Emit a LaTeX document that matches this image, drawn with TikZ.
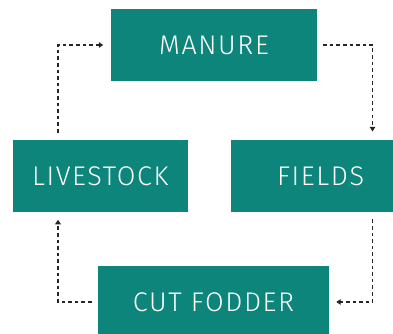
\documentclass[tikz,border=0pt]{standalone}
\usepackage{fontspec}
\setmainfont{Fira Sans Light}[LetterSpace=6]
\usetikzlibrary{arrows.meta}
\definecolor{teal}{HTML}{0E857A}
\definecolor{ink}{HTML}{262626}
\begin{document}
\begin{tikzpicture}[x=1pt,y=-1pt,
  stage/.style={rectangle, fill=teal, text=white, inner sep=0pt,
    font=\fontsize{27}{27}\selectfont, text height=18.6pt, text depth=0pt},
  flow/.style={draw=ink, line width=1.3pt, dash pattern=on 3.6pt off 3pt,
    -{Triangle[length=4.5pt,width=5.5pt]}}]
\useasboundingbox (0,0) rectangle (393,334);
\clip (0,0) rectangle (393,334);
% the four stages of the cycle
\node[stage, minimum width=206pt, minimum height=71.5pt] (manure) at (214,45) {MANURE};
\node[stage, minimum width=174.7pt, minimum height=71.7pt] (livestock) at (100.3,176) {LIVESTOCK};
\node[stage, minimum width=178.7pt, minimum height=71.7pt] (fields) at (320.6,176) {FIELDS};
\node[stage, minimum width=231pt, minimum height=72pt] (fodder) at (213.5,302) {CUT FODDER};
% verticals of the left and right loops
\coordinate (L) at (58,0);
\coordinate (R) at (372.5,0);
% dotted connectors
\draw[flow, shorten <=7.3pt, shorten >=7.5pt] (livestock.north -| L) |- (manure.west);
\draw[flow, shorten <=6pt, shorten >=8.5pt] (manure.east) -| (fields.north -| R);
\draw[flow, shorten <=7.3pt, shorten >=7pt] (fields.south -| R) |- (fodder.east);
\draw[flow, shorten <=6.3pt, shorten >=7.7pt] (fodder.west) -| (livestock.south -| L);
\end{tikzpicture}
\end{document}
